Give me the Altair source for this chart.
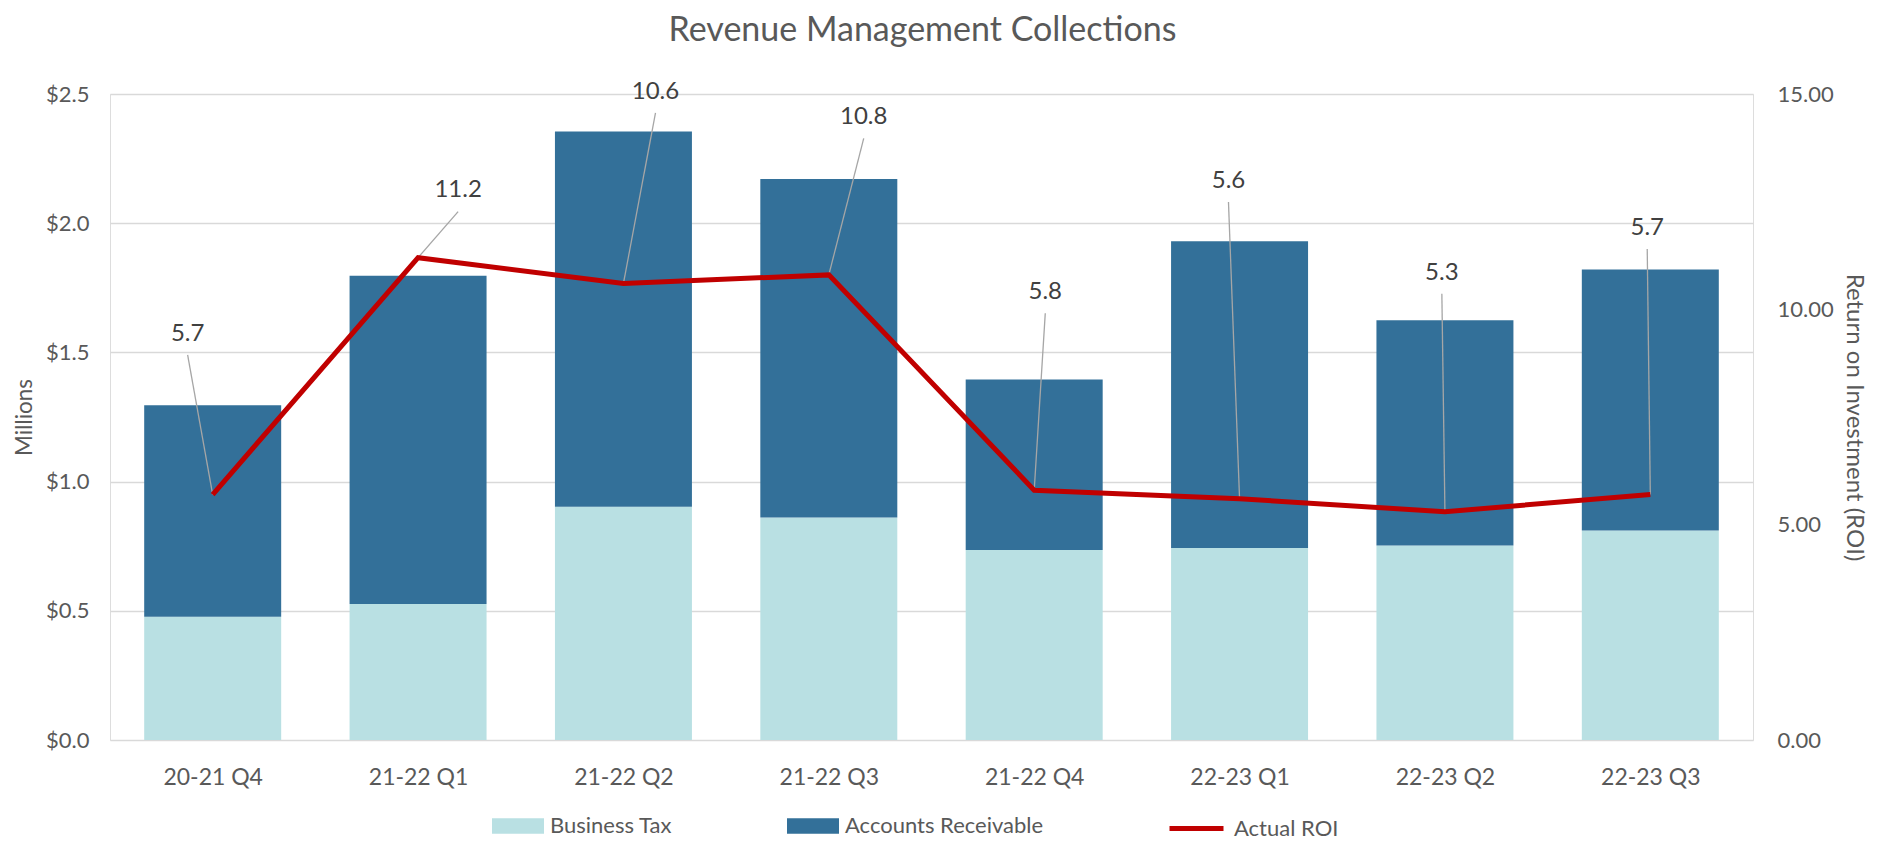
import json
import altair as alt
import pandas as pd

# ---------------- data ----------------
categories = ["20-21 Q4", "21-22 Q1", "21-22 Q2", "21-22 Q3",
              "21-22 Q4", "22-23 Q1", "22-23 Q2", "22-23 Q3"]
business_tax = [0.477, 0.526, 0.903, 0.861, 0.735, 0.743, 0.753, 0.811]
accounts_receivable = [0.818, 1.271, 1.452, 1.310, 0.660, 1.187, 0.871, 1.010]
actual_roi = [5.7, 11.2, 10.6, 10.8, 5.8, 5.6, 5.3, 5.7]
# where each ROI data label sits (ROI units) and its sideways shift (in category widths)
label_roi = [9.43, 12.76, 15.05, 14.46, 10.40, 12.98, 10.85, 11.89]
label_shift = [-0.122, 0.195, 0.156, 0.170, 0.054, -0.054, -0.015, -0.015]

series_names = ["Business Tax", "Accounts Receivable"]
left_ticks = [0, 0.5, 1.0, 1.5, 2.0, 2.5]
right_ticks = [0, 5, 10, 15]

# ---------------- tables ----------------
rows = []
for i, c in enumerate(categories):
    rows.append({"idx": i, "cat": c, "series": series_names[0], "order": 0, "value": business_tax[i]})
    rows.append({"idx": i, "cat": c, "series": series_names[1], "order": 1, "value": accounts_receivable[i]})
bars_df = pd.DataFrame(rows)

roi_df = pd.DataFrame({
    "idx": list(range(len(categories))),
    "cat": categories,
    "roi": actual_roi,
    "label_roi": label_roi,
    "label_shift": label_shift,
    "label": [f"{v:.1f}" for v in actual_roi],
    "series": ["Actual ROI"] * len(categories),
})

# ---------------- styles ----------------
FONT = "Lato"
TXT = "#595959"
LIGHT = "#B9E0E3"
DARK = "#337099"
RED = "#C00000"
HALF_BAR = 0.3335

W, H = 1643, 646

x_scale = alt.Scale(domain=[-0.5, len(categories) - 0.5], nice=False, zero=False)
x_axis = alt.Axis(
    values=list(range(len(categories))),
    labelExpr=json.dumps(categories) + "[datum.value]",
    title=None, grid=False, domain=False, ticks=False, tickSize=0,
    labelPadding=37, labelBaseline="middle", labelFontSize=23, labelColor=TXT,
    labelFont=FONT,
)
left_scale = alt.Scale(domain=[0, 2.5], nice=False)
left_axis = alt.Axis(
    orient="left", values=left_ticks, format="$.1f", title="Millions",
    grid=True, gridColor="#D9D9D9", gridWidth=1.5,
    domain=False, ticks=False, tickSize=0, labelPadding=21,
    labelFontSize=22, labelColor=TXT, labelFont=FONT,
    titleFontSize=22.5, titleColor=TXT, titleFont=FONT, titleFontWeight="normal",
    titleX=-86, titleY=H / 2, titleBaseline="middle", titleAngle=270,
)
right_scale = alt.Scale(domain=[0, 15], nice=False)
right_axis = alt.Axis(
    orient="right", values=right_ticks, format=".2f",
    title="Return on Investment (ROI)", grid=False,
    domain=False, ticks=False, tickSize=0, labelPadding=24,
    labelFontSize=22, labelColor=TXT, labelFont=FONT,
    titleFontSize=24, titleColor=TXT, titleFont=FONT, titleFontWeight="normal",
    titleX=100, titleY=H / 2, titleBaseline="middle", titleAngle=90,
)

# ---------------- bars ----------------
bars = (
    alt.Chart(bars_df)
    .transform_stack(stack="value", groupby=["idx"], as_=["y0", "y1"],
                     sort=[alt.SortField("order", order="ascending")])
    .transform_calculate(x0=f"datum.idx - {HALF_BAR}", x1=f"datum.idx + {HALF_BAR}")
    .mark_bar()
    .encode(
        x=alt.X("x0:Q", scale=x_scale, axis=x_axis),
        x2="x1:Q",
        y=alt.Y("y0:Q", scale=left_scale, axis=left_axis),
        y2="y1:Q",
        color=alt.Color(
            "series:N",
            scale=alt.Scale(domain=series_names, range=[LIGHT, DARK]),
            legend=alt.Legend(
                title=None, orient="none", direction="horizontal",
                legendX=382, legendY=706,
                symbolType="M-1,-0.3H1V0.3H-1Z", symbolSize=2704,
                symbolStrokeWidth=0, symbolOpacity=1,
                labelFontSize=22, labelColor=TXT, labelFont=FONT,
                labelOffset=6, columnPadding=114, labelLimit=500,
            ),
        ),
        order=alt.Order("order:Q"),
    )
)

# ---------------- ROI ----------------
roi_base = alt.Chart(roi_df)

line = roi_base.mark_line(strokeWidth=5, strokeJoin="miter").encode(
    x=alt.X("idx:Q", scale=x_scale, axis=x_axis),
    y=alt.Y("roi:Q", scale=right_scale, axis=right_axis),
    stroke=alt.Stroke(
        "series:N",
        scale=alt.Scale(domain=["Actual ROI"], range=[RED]),
        legend=alt.Legend(
            title=None, orient="none", direction="horizontal",
            legendX=1057, legendY=705,
            symbolType="stroke", symbolSize=2916, symbolStrokeWidth=5,
            labelFontSize=22, labelColor=TXT, labelFont=FONT, labelOffset=8,
            labelLimit=500,
        ),
    ),
)

leaders = roi_base.transform_calculate(
    lx="datum.idx + datum.label_shift", ly="datum.label_roi - 0.49"
).mark_rule(color="#A6A6A6", strokeWidth=1.3).encode(
    x=alt.X("lx:Q", scale=x_scale, axis=x_axis),
    x2="idx:Q",
    y=alt.Y("ly:Q", scale=right_scale, axis=right_axis),
    y2="roi:Q",
)

labels = roi_base.transform_calculate(
    lx="datum.idx + datum.label_shift"
).mark_text(font=FONT, fontSize=24, color="#404040", align="center",
            baseline="middle").encode(
    x=alt.X("lx:Q", scale=x_scale, axis=x_axis),
    y=alt.Y("label_roi:Q", scale=right_scale, axis=right_axis),
    text="label:N",
)

roi_layer = alt.layer(leaders, line, labels)

chart = (
    alt.layer(bars, roi_layer)
    .resolve_scale(y="independent")
    .properties(
        width=W, height=H,
        autosize=alt.AutoSizeParams(type="none"),
        padding={"left": 102, "top": 86, "right": 122, "bottom": 101},
        title=alt.TitleParams(
            "Revenue Management Collections", font=FONT, fontSize=34,
            fontWeight="normal", color=TXT, anchor="middle", offset=32, dx=-9,
        ),
    )
    .configure_view(strokeWidth=0)
    .configure(font=FONT, background="white")
)

chart.save("out.html", embed_options={"renderer": "svg", "actions": False})
